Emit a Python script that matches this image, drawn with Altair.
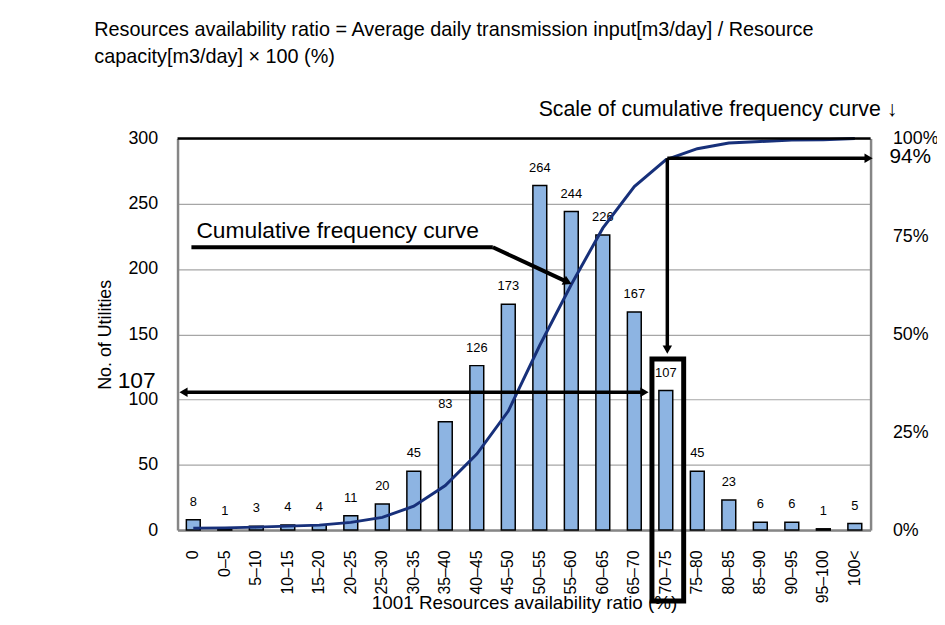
import altair as alt
import pandas as pd

# ---------------- data ----------------
categories = ["0", "0–5", "5–10", "10–15", "15–20", "20–25", "25–30", "30–35",
              "35–40", "40–45", "45–50", "50–55", "55–60", "60–65", "65–70",
              "70–75", "75–80", "80–85", "85–90", "90–95", "95–100", "100<"]
counts = [8, 1, 3, 4, 4, 11, 20, 45, 83, 126, 173, 264, 244, 226, 167,
          107, 45, 23, 6, 6, 1, 5]
left_ticks = [0, 50, 100, 150, 200, 250, 300]
right_ticks = [0, 0.25, 0.5, 0.75, 1.0]

title_lines = ["Resources availability ratio = Average daily transmission input[m3/day] / Resource",
               "capacity[m3/day] × 100 (%)"]
x_title = "1001  Resources availability ratio (%)"
y_title = "No. of Utilities"

df = pd.DataFrame({"cat": categories, "count": counts, "idx": list(range(len(categories)))})

W, H = 699, 395
FONT = "Liberation Sans"
GRAY = "#868686"
NAVY = "#17307A"
BAR = "#8DB4E2"

x_enc = alt.X(
    "cat:N", sort=categories,
    scale=alt.Scale(paddingInner=0.56, paddingOuter=0.28),
    axis=alt.Axis(title=x_title, labelAngle=270, labelFontSize=16, labelPadding=20,
                  ticks=False, domainColor=GRAY, domainWidth=2.5,
                  titleFontSize=19, titlePadding=-9, titleFontWeight="normal",
                  labelFont=FONT, titleFont=FONT, labelColor="black", titleColor="black"),
)

y_left = alt.Y(
    "count:Q", scale=alt.Scale(domain=[0, 300]),
    axis=alt.Axis(values=left_ticks, title=y_title, titleFontSize=18, titleFontWeight="normal",
                  labelFontSize=18, labelPadding=20, ticks=False, grid=True,
                  gridColor="#A6A6A6", gridWidth=1.2, domainColor=GRAY, domainWidth=2.5,
                  titlePadding=14, labelFont=FONT, titleFont=FONT,
                  labelColor="black", titleColor="black"),
)

base = alt.Chart(df).encode(x=x_enc, y=y_left)
bars = base.mark_bar(fill=BAR, stroke="black", strokeWidth=1.5)
bar_labels = base.mark_text(fontSize=13, font=FONT, color="black", baseline="middle", dy=-18).encode(
    text="count:Q")

left_group = alt.layer(bars, bar_labels)

curve = alt.Chart(df).transform_window(
    cum="sum(count)", sort=[alt.SortField("idx")], frame=[None, 0]
).transform_joinaggregate(
    total="sum(count)"
).transform_calculate(
    pct="datum.cum / datum.total"
).mark_line(color=NAVY, strokeWidth=3).encode(
    x=x_enc,
    y=alt.Y("pct:Q", scale=alt.Scale(domain=[0, 1]),
            axis=alt.Axis(orient="right", values=right_ticks, format=".0%", title=None,
                          labelFontSize=18, labelPadding=22, ticks=False, grid=False,
                          domainColor=GRAY, domainWidth=2.5, labelFont=FONT,
                          labelColor="black")),
)

one = pd.DataFrame({"a": [0]})


def seg(x1, y1, x2, y2, w=3.5, color="black"):
    return alt.Chart(one).mark_rule(color=color, strokeWidth=w, strokeCap="butt").encode(
        x=alt.value(x1), y=alt.value(y1), x2=alt.value(x2), y2=alt.value(y2))


def head(x, y, shape, angle=0, size=90):
    return alt.Chart(one).mark_point(shape=shape, filled=True, size=size, color="black",
                                     opacity=1, angle=angle).encode(
        x=alt.value(x), y=alt.value(y))


def label(x, y, text, size, align="left", font=FONT):
    return alt.Chart(one).mark_text(text=text, fontSize=size, font=font, color="black",
                                    align=align, baseline="middle").encode(
        x=alt.value(x), y=alt.value(y))


annotations = [
    # top border of plot
    seg(0, 0, W, 0, 2.5),
    # leader for "Cumulative frequency curve"
    seg(14, 109.7, 318, 109.7, 4),
    seg(318, 109.7, 393.5, 144.9, 4),
    head(393.5, 144.9, "triangle-right", 25, 100),
    label(19, 93, "Cumulative frequency curve", 23),
    # double arrow at 107
    seg(6, 256, 471, 256, 3.5),
    head(6, 256, "triangle-left"),
    head(471, 256, "triangle-right"),
    # 94% arrows
    seg(494, 20, 494, 213, 3.5),
    head(494, 213, "triangle-down"),
    seg(494, 20, 697, 20, 3.5),
    head(697, 20, "triangle-right"),
    # box around 70-75
    alt.Chart(one).mark_rect(fill="transparent", stroke="black", strokeWidth=5).encode(
        x=alt.value(478.5), x2=alt.value(510.5), y=alt.value(222.5), y2=alt.value(466.5)),
    # extra labels
    label(-22, 245, "107", 23, align="right"),
    label(718, 19, "94%", 21),
    label(726, -29, "Scale of cumulative frequency curve ↓", 21.5, align="right"),
    label(-84, -109, title_lines[0], 20),
    label(-84, -82, title_lines[1], 20),
]

chart = alt.layer(left_group, curve, *annotations).resolve_scale(y="independent").properties(
    width=W, height=H,
    autosize=alt.AutoSizeParams(type="none"),
    padding={"left": 171, "top": 129, "right": 67, "bottom": 81},
    background="white",
).configure_view(stroke=None)

chart.save("out.html", embed_options={"renderer": "svg", "actions": False})
